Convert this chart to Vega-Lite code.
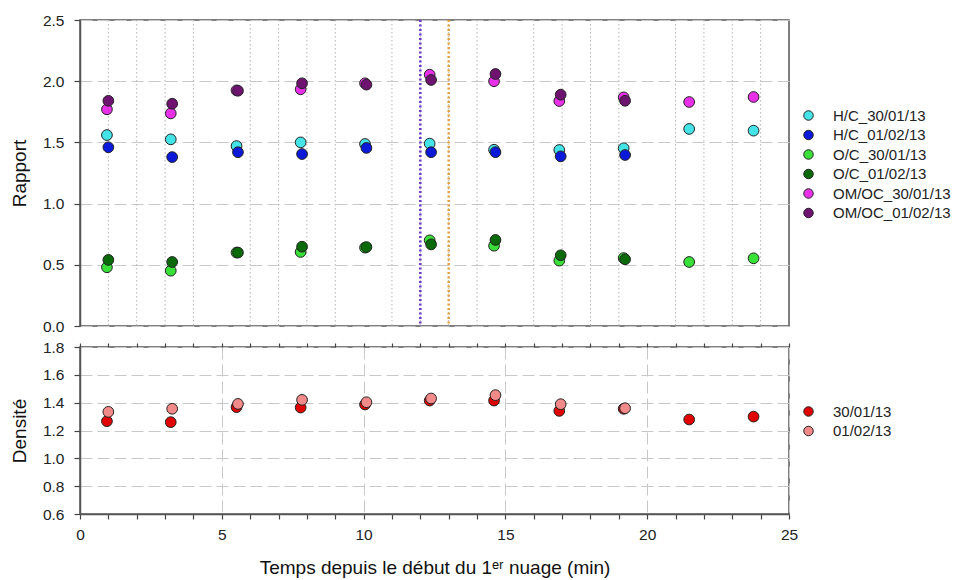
{
  "$schema": "https://vega.github.io/schema/vega-lite/v6.json",
  "background": "white",
  "padding": {"left": 9, "top": 12, "right": 5, "bottom": 5},
  "config": {
    "font": "Liberation Sans",
    "view": {"stroke": "#555555", "strokeWidth": 1.5},
    "axis": {
      "labelFont": "Liberation Sans", "labelFontSize": 15.5, "labelColor": "#222222",
      "titleFont": "Liberation Sans", "titleFontSize": 19, "titleFontWeight": "normal", "titleColor": "#111111",
      "domainColor": "#555555", "domainWidth": 1.5, "tickColor": "#444444", "tickSize": 6, "tickWidth": 1.2,
      "gridColor": "#c8c8c8", "gridDash": [12, 5], "gridWidth": 1, "labelPadding": 10
    },
    "legend": {
      "labelFont": "Liberation Sans", "labelFontSize": 15, "labelColor": "#222222",
      "symbolStrokeColor": "#222222", "symbolStrokeWidth": 1, "symbolSize": 90, "symbolType": "circle",
      "padding": 0, "rowPadding": 3.5, "labelOffset": 17, "title": null
    }
  },
  "datasets": {
    "ratios": [
      {"s": "H/C_30/01/13", "t": 0.95, "v": 1.56},
      {"s": "H/C_30/01/13", "t": 3.2, "v": 1.525},
      {"s": "H/C_30/01/13", "t": 5.52, "v": 1.47},
      {"s": "H/C_30/01/13", "t": 7.78, "v": 1.5},
      {"s": "H/C_30/01/13", "t": 10.05, "v": 1.487},
      {"s": "H/C_30/01/13", "t": 12.33, "v": 1.49},
      {"s": "H/C_30/01/13", "t": 14.6, "v": 1.44},
      {"s": "H/C_30/01/13", "t": 16.9, "v": 1.438},
      {"s": "H/C_30/01/13", "t": 19.17, "v": 1.452},
      {"s": "H/C_30/01/13", "t": 21.48, "v": 1.61},
      {"s": "H/C_30/01/13", "t": 23.75, "v": 1.596},
      {"s": "H/C_01/02/13", "t": 1.0, "v": 1.46},
      {"s": "H/C_01/02/13", "t": 3.25, "v": 1.38},
      {"s": "H/C_01/02/13", "t": 5.57, "v": 1.42},
      {"s": "H/C_01/02/13", "t": 7.83, "v": 1.405},
      {"s": "H/C_01/02/13", "t": 10.1, "v": 1.455},
      {"s": "H/C_01/02/13", "t": 12.38, "v": 1.42},
      {"s": "H/C_01/02/13", "t": 14.65, "v": 1.42},
      {"s": "H/C_01/02/13", "t": 16.95, "v": 1.386},
      {"s": "H/C_01/02/13", "t": 19.22, "v": 1.397},
      {"s": "O/C_30/01/13", "t": 0.95, "v": 0.48},
      {"s": "O/C_30/01/13", "t": 3.2, "v": 0.452},
      {"s": "O/C_30/01/13", "t": 5.52, "v": 0.6},
      {"s": "O/C_30/01/13", "t": 7.78, "v": 0.605},
      {"s": "O/C_30/01/13", "t": 10.05, "v": 0.64},
      {"s": "O/C_30/01/13", "t": 12.33, "v": 0.7},
      {"s": "O/C_30/01/13", "t": 14.6, "v": 0.656},
      {"s": "O/C_30/01/13", "t": 16.9, "v": 0.534},
      {"s": "O/C_30/01/13", "t": 19.17, "v": 0.555},
      {"s": "O/C_30/01/13", "t": 21.48, "v": 0.523},
      {"s": "O/C_30/01/13", "t": 23.75, "v": 0.553},
      {"s": "O/C_01/02/13", "t": 1.0, "v": 0.54},
      {"s": "O/C_01/02/13", "t": 3.25, "v": 0.523},
      {"s": "O/C_01/02/13", "t": 5.57, "v": 0.6},
      {"s": "O/C_01/02/13", "t": 7.83, "v": 0.648},
      {"s": "O/C_01/02/13", "t": 10.1, "v": 0.645},
      {"s": "O/C_01/02/13", "t": 12.38, "v": 0.667},
      {"s": "O/C_01/02/13", "t": 14.65, "v": 0.703},
      {"s": "O/C_01/02/13", "t": 16.95, "v": 0.578},
      {"s": "O/C_01/02/13", "t": 19.22, "v": 0.545},
      {"s": "OM/OC_30/01/13", "t": 0.95, "v": 1.77},
      {"s": "OM/OC_30/01/13", "t": 3.2, "v": 1.737},
      {"s": "OM/OC_30/01/13", "t": 5.52, "v": 1.925},
      {"s": "OM/OC_30/01/13", "t": 7.78, "v": 1.934},
      {"s": "OM/OC_30/01/13", "t": 10.05, "v": 1.983},
      {"s": "OM/OC_30/01/13", "t": 12.33, "v": 2.053},
      {"s": "OM/OC_30/01/13", "t": 14.6, "v": 2.0},
      {"s": "OM/OC_30/01/13", "t": 16.9, "v": 1.838},
      {"s": "OM/OC_30/01/13", "t": 19.17, "v": 1.868},
      {"s": "OM/OC_30/01/13", "t": 21.48, "v": 1.83},
      {"s": "OM/OC_30/01/13", "t": 23.75, "v": 1.871},
      {"s": "OM/OC_01/02/13", "t": 1.0, "v": 1.84},
      {"s": "OM/OC_01/02/13", "t": 3.25, "v": 1.816},
      {"s": "OM/OC_01/02/13", "t": 5.57, "v": 1.922},
      {"s": "OM/OC_01/02/13", "t": 7.83, "v": 1.983},
      {"s": "OM/OC_01/02/13", "t": 10.1, "v": 1.972},
      {"s": "OM/OC_01/02/13", "t": 12.38, "v": 2.01},
      {"s": "OM/OC_01/02/13", "t": 14.65, "v": 2.059},
      {"s": "OM/OC_01/02/13", "t": 16.95, "v": 1.89},
      {"s": "OM/OC_01/02/13", "t": 19.22, "v": 1.84}
    ],
    "density": [
      {"s": "30/01/13", "t": 0.95, "d": 1.267},
      {"s": "30/01/13", "t": 3.2, "d": 1.26},
      {"s": "30/01/13", "t": 5.52, "d": 1.368},
      {"s": "30/01/13", "t": 7.78, "d": 1.365},
      {"s": "30/01/13", "t": 10.05, "d": 1.387},
      {"s": "30/01/13", "t": 12.33, "d": 1.415},
      {"s": "30/01/13", "t": 14.6, "d": 1.415},
      {"s": "30/01/13", "t": 16.9, "d": 1.341},
      {"s": "30/01/13", "t": 19.17, "d": 1.356},
      {"s": "30/01/13", "t": 21.48, "d": 1.279},
      {"s": "30/01/13", "t": 23.75, "d": 1.3},
      {"s": "01/02/13", "t": 1.0, "d": 1.334},
      {"s": "01/02/13", "t": 3.25, "d": 1.356},
      {"s": "01/02/13", "t": 5.57, "d": 1.391},
      {"s": "01/02/13", "t": 7.83, "d": 1.42},
      {"s": "01/02/13", "t": 10.1, "d": 1.403},
      {"s": "01/02/13", "t": 12.38, "d": 1.43},
      {"s": "01/02/13", "t": 14.65, "d": 1.454},
      {"s": "01/02/13", "t": 16.95, "d": 1.389},
      {"s": "01/02/13", "t": 19.22, "d": 1.36}
    ],
    "events": [
      {"t": 12, "e": "a"},
      {"t": 13, "e": "b"}
    ],
    "minor": [
      {"t": 1}, {"t": 2}, {"t": 3}, {"t": 4},
      {"t": 6}, {"t": 7}, {"t": 8}, {"t": 9},
      {"t": 11}, {"t": 12}, {"t": 13}, {"t": 14},
      {"t": 16}, {"t": 17}, {"t": 18}, {"t": 19},
      {"t": 21}, {"t": 22}, {"t": 23}, {"t": 24}
    ]
  },
  "spacing": 21,
  "bounds": "flush",
  "resolve": {"scale": {"color": "independent"}},
  "vconcat": [
    {
      "width": 709,
      "height": 306,
      "layer": [
        {
          "data": {"name": "minor"},
          "mark": {"type": "rule", "color": "#b4b4b4", "strokeWidth": 1, "strokeDash": [1.5, 2.5]},
          "encoding": {
            "x": {
              "field": "t", "type": "quantitative",
              "scale": {"domain": [0, 25], "nice": false, "zero": false},
              "axis": {
                "title": null, "labels": false, "labelFlush": false, "tickSize": 4,
                "values": [0,1,2,3,4,5,6,7,8,9,10,11,12,13,14,15,16,17,18,19,20,21,22,23,24,25],
                "grid": true,
                "gridOpacity": {"condition": {"test": "datum.value % 5 === 0", "value": 1}, "value": 0}
              }
            }
          }
        },
        {
          "data": {"name": "events"},
          "transform": [{"filter": "datum.e === 'a'"}],
          "mark": {"type": "rule", "color": "#6A35C8", "strokeWidth": 2.5, "strokeDash": [2, 2.5]},
          "encoding": {"x": {"field": "t", "type": "quantitative", "axis": null}}
        },
        {
          "data": {"name": "events"},
          "transform": [{"filter": "datum.e === 'b'"}],
          "mark": {"type": "rule", "color": "#E8A040", "strokeWidth": 2.5, "strokeDash": [2, 2.5]},
          "encoding": {"x": {"field": "t", "type": "quantitative", "axis": null}}
        },
        {
          "data": {"name": "ratios"},
          "mark": {"type": "circle", "size": 115, "opacity": 1, "stroke": "#222222", "strokeWidth": 1},
          "encoding": {
            "x": {"field": "t", "type": "quantitative", "axis": null},
            "y": {
              "field": "v", "type": "quantitative",
              "scale": {"domain": [0, 2.5], "nice": false},
              "axis": {"title": "Rapport", "values": [0, 0.5, 1, 1.5, 2, 2.5], "format": ".1f", "grid": true, "titlePadding": 13}
            },
            "color": {
              "field": "s", "type": "nominal",
              "scale": {
                "domain": ["H/C_30/01/13", "H/C_01/02/13", "O/C_30/01/13", "O/C_01/02/13", "OM/OC_30/01/13", "OM/OC_01/02/13"],
                "range": ["#44E3E8", "#0A1AD8", "#38E038", "#0A6A0A", "#E830E8", "#6E1470"]
              },
              "legend": {"orient": "none", "legendX": 721, "legendY": 88}
            }
          }
        }
      ]
    },
    {
      "width": 709,
      "height": 167,
      "resolve": {"axis": {"x": "independent"}},
      "layer": [
        {
          "data": {"name": "density"},
          "mark": {"type": "circle", "size": 115, "opacity": 1, "stroke": "#222222", "strokeWidth": 1},
          "encoding": {
            "x": {
              "field": "t", "type": "quantitative",
              "scale": {"domain": [0, 25], "nice": false, "zero": false},
              "axis": {
                "title": "Temps depuis le début du 1ᵉʳ nuage (min)",
                "titlePadding": 16, "labelPadding": 8, "labelFlush": false, "labelOverlap": false, "tickSize": 5,
                "values": [0,1,2,3,4,5,6,7,8,9,10,11,12,13,14,15,16,17,18,19,20,21,22,23,24,25],
                "labelExpr": "datum.value % 5 === 0 ? datum.label : ''",
                "grid": true,
                "gridOpacity": {"condition": {"test": "datum.value % 5 === 0", "value": 1}, "value": 0}
              }
            },
            "y": {
              "field": "d", "type": "quantitative",
              "scale": {"domain": [0.6, 1.8], "nice": false, "zero": false},
              "axis": {"title": "Densité", "values": [0.6, 0.8, 1.0, 1.2, 1.4, 1.6, 1.8], "format": ".1f", "grid": true, "titlePadding": 13}
            },
            "color": {
              "field": "s", "type": "nominal",
              "scale": {"domain": ["30/01/13", "01/02/13"], "range": ["#E00000", "#F28A8A"]},
              "legend": {"orient": "none", "legendX": 721, "legendY": 57}
            }
          }
        },
        {
          "data": {"name": "density"},
          "mark": {"type": "circle", "opacity": 0},
          "encoding": {
            "x": {
              "field": "t", "type": "quantitative",
              "axis": {
                "orient": "top", "title": null, "labels": false, "grid": false, "domain": false, "tickSize": 4,
                "values": [0,1,2,3,4,5,6,7,8,9,10,11,12,13,14,15,16,17,18,19,20,21,22,23,24,25]
              }
            }
          }
        }
      ]
    }
  ]
}
